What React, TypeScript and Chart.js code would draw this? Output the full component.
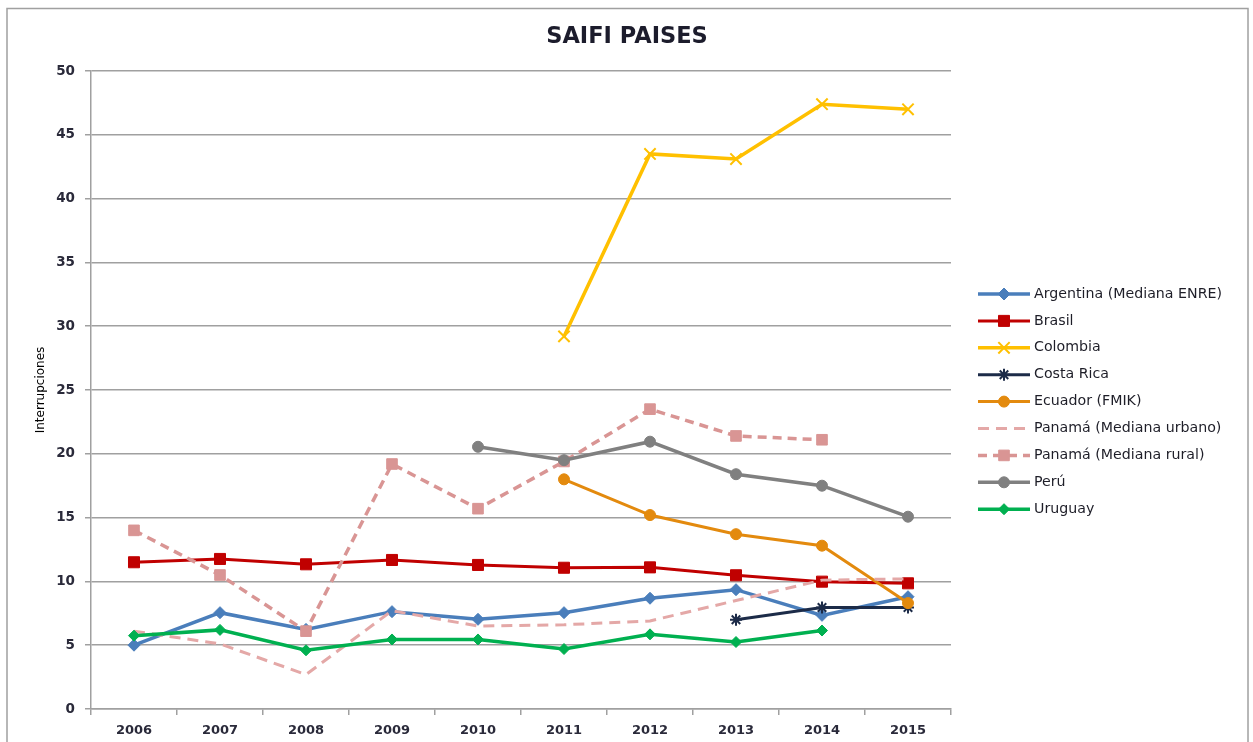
import React, { useEffect, useRef } from 'react';
import { Chart, registerables } from 'chart.js';
import { drawPoint } from 'chart.js/helpers';

Chart.register(...registerables);

const years = ['2006', '2007', '2008', '2009', '2010', '2011', '2012', '2013', '2014', '2015'];
const argentina = [5.0, 7.55, 6.24, 7.63, 7.03, 7.55, 8.68, 9.35, 7.34, 8.8];
const brasil = [11.5, 11.76, 11.34, 11.68, 11.29, 11.07, 11.1, 10.48, 9.98, 9.85];
const colombia = [null, null, null, null, null, 29.2, 43.5, 43.1, 47.4, 47.0];
const costaRica = [null, null, null, null, null, null, null, 7.0, 7.95, 7.95];
const ecuador = [null, null, null, null, null, 18.0, 15.2, 13.7, 12.8, 8.3];
const panamaUrbano = [6.1, 5.1, 2.7, 7.7, 6.5, 6.6, 6.9, 8.5, 10.1, 10.2];
const panamaRural = [14.0, 10.5, 6.1, 19.2, 15.7, 19.4, 23.5, 21.4, 21.1, null];
const peru = [null, null, null, null, 20.55, 19.5, 20.95, 18.4, 17.5, 15.07];
const uruguay = [5.75, 6.2, 4.6, 5.45, 5.45, 4.7, 5.85, 5.25, 6.15, null];

const seriesNames = [
  'Argentina (Mediana ENRE)',
  'Brasil',
  'Colombia',
  'Costa Rica',
  'Ecuador (FMIK)',
  'Panamá (Mediana urbano)',
  'Panamá (Mediana rural)',
  'Perú',
  'Uruguay',
];
const seriesValues = [argentina, brasil, colombia, costaRica, ecuador, panamaUrbano, panamaRural, peru, uruguay];

const chartTitle = 'SAIFI PAISES';
const yAxisTitle = 'Interrupciones';
const yMin = 0;
const yMax = 50;
const yStep = 5;

const styles = [
  { color: '#4A7EBB', width: 3.5, dash: [], point: 'rectRot', radius: 6 },
  { color: '#C00000', width: 3, dash: [], point: 'rect', radius: 7.8 },
  { color: '#FFC000', width: 3.5, dash: [], point: 'crossRot', radius: 8 },
  { color: '#1C2B48', width: 3, dash: [], point: 'star', radius: 6 },
  { color: '#E38A0E', width: 3, dash: [], point: 'circle', radius: 5.5 },
  { color: '#E4A8A7', width: 3, dash: [11, 7], point: 'circle', radius: 0 },
  { color: '#D99594', width: 3.5, dash: [9, 6], point: 'rect', radius: 7.5 },
  { color: '#808080', width: 3.5, dash: [], point: 'circle', radius: 5.5 },
  { color: '#00B050', width: 3.5, dash: [], point: 'rectRot', radius: 5.5 },
];

const GRID = '#A0A0A0';
const TICK = '#2A2A3A';
const FONT = 'DejaVu Sans';

const framePlugin = {
  id: 'frame',
  beforeDraw(chart: any) {
    const ctx = chart.ctx;
    ctx.save();
    ctx.fillStyle = '#FFFFFF';
    ctx.fillRect(0, 0, chart.width, chart.height);
    ctx.strokeStyle = GRID;
    ctx.lineWidth = 1.5;
    ctx.strokeRect(7, 8.5, 1241, 800);
    ctx.restore();
  },
};

const titlePlugin = {
  id: 'customTitle',
  afterDraw(chart: any) {
    const ctx = chart.ctx;
    ctx.save();
    ctx.font = `bold 22.5px "${FONT}"`;
    ctx.fillStyle = '#1C1C2C';
    ctx.textAlign = 'center';
    ctx.textBaseline = 'middle';
    ctx.fillText(chartTitle, 627, 37);
    ctx.restore();
  },
};

const legendPlugin = {
  id: 'customLegend',
  afterDraw(chart: any) {
    const ctx = chart.ctx;
    const datasets = chart.data.datasets;
    ctx.save();
    datasets.forEach((ds: any, i: number) => {
      const y = 294 + i * 26.9;
      ctx.save();
      ctx.strokeStyle = ds.borderColor;
      ctx.lineWidth = ds.borderWidth;
      ctx.setLineDash(ds.borderDash || []);
      ctx.beginPath();
      ctx.moveTo(978, y);
      ctx.lineTo(1030, y);
      ctx.stroke();
      ctx.restore();
      if (ds.pointRadius > 0) {
        ctx.save();
        ctx.fillStyle = ds.pointBackgroundColor;
        ctx.strokeStyle = ds.pointBorderColor;
        ctx.lineWidth = ds.pointBorderWidth;
        ctx.setLineDash([]);
        drawPoint(ctx, { pointStyle: ds.pointStyle, rotation: 0, radius: ds.pointRadius, borderWidth: ds.pointBorderWidth }, 1004, y);
        ctx.restore();
      }
      ctx.font = `14.2px "${FONT}"`;
      ctx.fillStyle = '#1E1E28';
      ctx.textAlign = 'left';
      ctx.textBaseline = 'middle';
      ctx.fillText(ds.label, 1034, y);
    });
    ctx.restore();
  },
};

export default function App() {
  const canvasRef = useRef<HTMLCanvasElement | null>(null);

  useEffect(() => {
    if (!canvasRef.current) return;
    const n = seriesNames.length;
    const datasets = seriesNames.map((name, i) => {
      const s = styles[i];
      return {
        label: name,
        data: seriesValues[i],
        borderColor: s.color,
        backgroundColor: s.color,
        borderWidth: s.width,
        borderDash: s.dash,
        pointStyle: s.point,
        pointRadius: s.radius,
        pointHoverRadius: s.radius,
        pointBackgroundColor: s.color,
        pointBorderColor: s.color,
        pointBorderWidth: s.point === 'crossRot' || s.point === 'star' ? 2 : 1,
        tension: 0,
        fill: false,
        spanGaps: false,
        order: n - i,
      };
    });

    const chart = new Chart(canvasRef.current, {
      type: 'line',
      data: { labels: years, datasets },
      options: {
        responsive: false,
        animation: false,
        events: [],
        layout: { padding: { left: 0, top: 71, right: 302, bottom: 0 } },
        plugins: {
          legend: { display: false },
          title: { display: false },
          tooltip: { enabled: false },
        },
        scales: {
          x: {
            type: 'category',
            offset: true,
            grid: {
              offset: true,
              drawOnChartArea: false,
              drawTicks: true,
              tickLength: 6,
              color: GRID,
              lineWidth: 1.5,
            },
            border: { display: true, color: GRID, width: 1.5 },
            ticks: {
              padding: 8,
              autoSkip: false,
              maxRotation: 0,
              color: TICK,
              font: { family: FONT, size: 13, weight: 'bold' },
            },
            afterFit: (s: any) => {
              s.height = 33;
            },
          },
          y: {
            min: yMin,
            max: yMax,
            ticks: {
              stepSize: yStep,
              padding: 10,
              color: TICK,
              font: { family: FONT, size: 13.5, weight: 'bold' },
            },
            grid: { color: GRID, lineWidth: 1.5, tickLength: 6, drawTicks: true },
            border: { display: true, color: GRID, width: 1.5 },
            title: {
              display: true,
              text: yAxisTitle,
              color: '#000000',
              font: { family: FONT, size: 12 },
              padding: { top: 34, bottom: 0 },
            },
            afterFit: (s: any) => {
              s.width = 91;
            },
          },
        },
      },
      plugins: [framePlugin, titlePlugin, legendPlugin],
    } as any);

    return () => {
      chart.destroy();
    };
  }, []);

  return (
    <div style={{ position: 'absolute', left: 0, top: 0, width: 1253, height: 742, background: '#fff' }}>
      <canvas ref={canvasRef} width={1253} height={742} style={{ display: 'block' }} />
    </div>
  );
}
